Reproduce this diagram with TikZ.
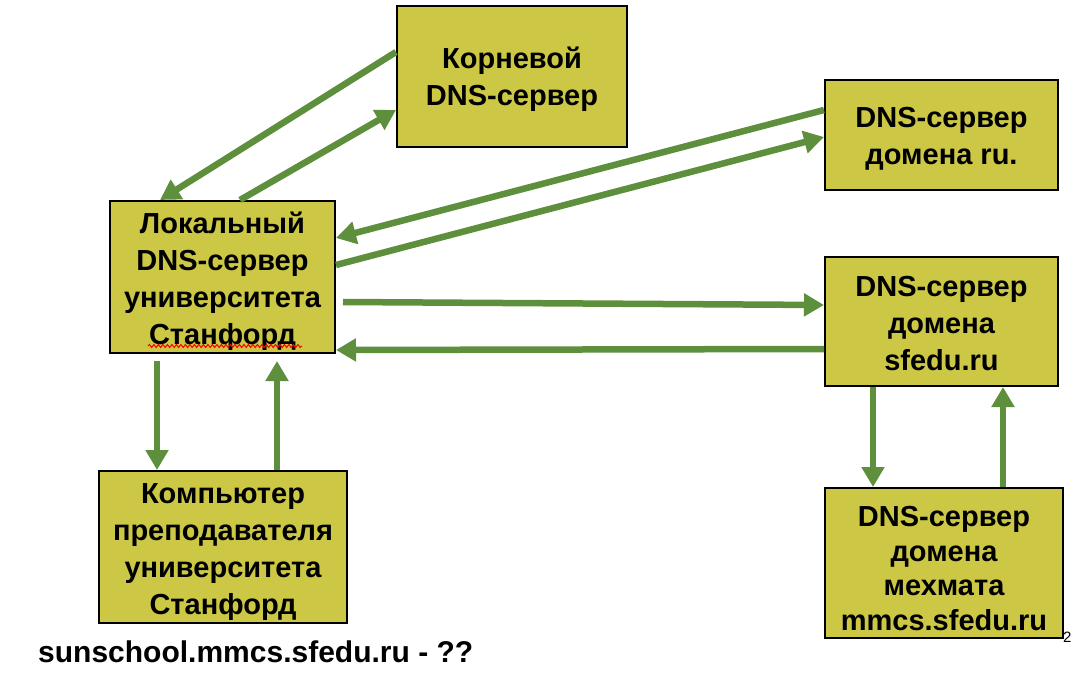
\documentclass[tikz,border=0pt]{standalone}
\usepackage{fontspec}
\setmainfont{Liberation Sans}
\usetikzlibrary{arrows.meta,decorations.pathmorphing}
\definecolor{boxfill}{HTML}{CCC845}
\definecolor{arrowgreen}{HTML}{5E8F3D}
\newcommand{\lowerby}[1]{\rule{0pt}{\dimexpr21pt+#1\relax}}
\begin{document}
\begin{tikzpicture}[x=1pt,y=-1pt,
  box/.style={draw=black, line width=2pt, fill=boxfill, align=center, inner sep=0pt,
    font=\fontsize{29}{37}\selectfont\bfseries},
  conn/.style={draw=arrowgreen, line width=6.5pt,
    -{Triangle[length=20pt,width=22pt]}},
  ]
\useasboundingbox (0,0) rectangle (1092,680);
\fill[white] (0,0) rectangle (1092,680);
\node[box, minimum width=230pt, minimum height=141pt] (root) at (512,76.5) {\lowerby{6pt}Корневой\\DNS-сервер};
\node[box, minimum width=233pt, minimum height=110pt] (ru) at (941.5,135) {\lowerby{6pt}DNS-сервер\\домена ru.};
\node[box, minimum width=225pt, minimum height=152pt] (local) at (222.5,277) {\lowerby{9pt}Локальный\\DNS-сервер\\университета\\Станфорд};
\node[box, minimum width=233pt, minimum height=129pt] (sfedu) at (941.5,321.5) {\lowerby{4pt}DNS-сервер\\домена\\sfedu.ru};
\node[box, minimum width=248pt, minimum height=152pt] (comp) at (223,547) {\lowerby{9pt}Компьютер\\преподавателя\\университета\\Станфорд};
\node[box, minimum width=238pt, minimum height=150pt, font=\fontsize{29}{34.5}\selectfont\bfseries] (mmcs) at (944,563) {\lowerby{10pt}DNS-сервер\\домена\\мехмата\\mmcs.sfedu.ru};

\draw[conn] ([yshift=24.5pt]root.west) -- ([xshift=-62.5pt]local.north);
\draw[conn] ([xshift=17.5pt]local.north) -- ([yshift=-33.5pt]root.west);
\draw[conn] ([yshift=25pt]ru.west) -- ([yshift=39pt]local.east);
\draw[conn] ([yshift=12pt]local.east) -- ([yshift=-2pt]ru.west);
\draw[conn] ([xshift=7pt,yshift=-25pt]local.east) -- ([yshift=16.5pt]sfedu.west);
\draw[conn] ([yshift=-27.5pt]sfedu.west) -- ([yshift=-73pt]local.east);
\draw[conn, shorten <=7pt] ([xshift=-65.5pt]local.south) -- ([xshift=-66pt]comp.north);
\draw[conn, shorten >=7pt] ([xshift=54pt]comp.north) -- ([xshift=54.5pt]local.south);
\draw[conn] ([xshift=-68.5pt]sfedu.south) -- ([xshift=-71pt]mmcs.north);
\draw[conn] ([xshift=59pt]mmcs.north) -- ([xshift=61.5pt]sfedu.south);

\coordinate (wavyA) at (148,346);
\coordinate (wavyB) at (302,346);
\draw[red, line width=1pt, decorate, decoration={snake, amplitude=1.5pt, segment length=4.5pt}] (wavyA) -- (wavyB);

\node[anchor=west, inner sep=0pt, font=\fontsize{30}{34}\selectfont\bfseries] (url) at (38,652) {sunschool.mmcs.sfedu.ru - ??};
\node[anchor=west, inner sep=0pt, font=\fontsize{15}{17}\selectfont] (pagenum) at (1063,637) {2};
\end{tikzpicture}
\end{document}
